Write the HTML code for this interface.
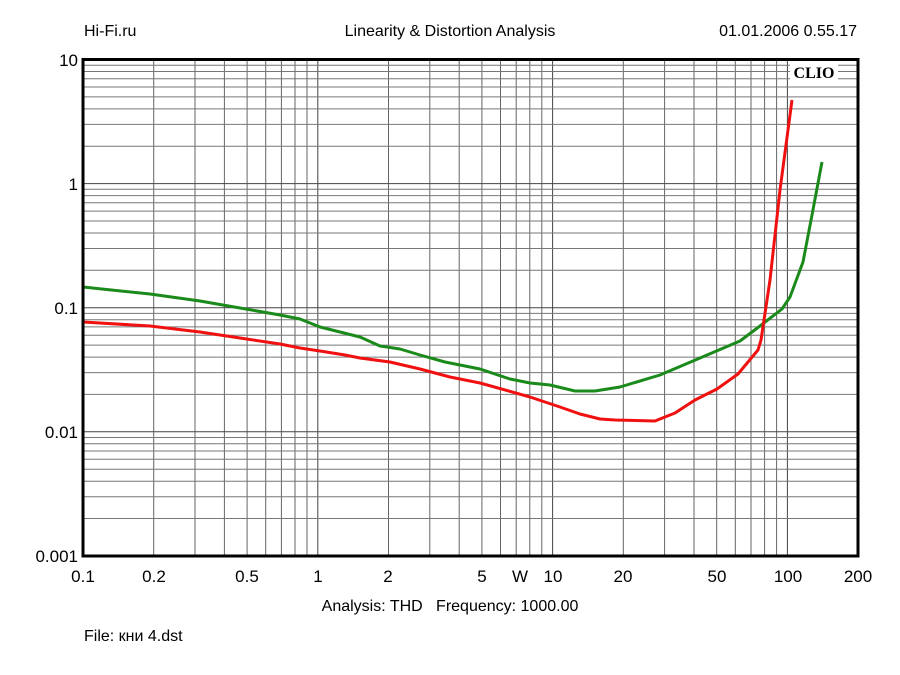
<!DOCTYPE html>
<html><head><meta charset="utf-8"><style>
body{margin:0;background:#fff;}
svg{display:block;font-family:"Liberation Sans",sans-serif;}
</style></head><body>
<svg width="900" height="675" viewBox="0 0 900 675">
<path fill="none" stroke="#666" stroke-width="1" d="M153.7 59.5V556M195 59.5V556M224.4 59.5V556M247.1 59.5V556M265.7 59.5V556M281.4 59.5V556M295 59.5V556M307 59.5V556M388.5 59.5V556M429.8 59.5V556M459.2 59.5V556M481.9 59.5V556M500.5 59.5V556M516.2 59.5V556M529.8 59.5V556M541.8 59.5V556M623.3 59.5V556M664.6 59.5V556M694 59.5V556M716.7 59.5V556M735.3 59.5V556M751 59.5V556M764.6 59.5V556M776.6 59.5V556"/>
<path fill="none" stroke="#444" stroke-width="1" d="M317.8 59.5V556M552.6 59.5V556M787.4 59.5V556M83 183.6H858M83 307.7H858M83 431.8H858"/>
<path fill="none" stroke="#777" stroke-width="1" d="M83 146.2H858M83 124.4H858M83 108.9H858M83 96.9H858M83 87H858M83 78.7H858M83 71.5H858M83 65.2H858M83 270.3H858M83 248.5H858M83 233H858M83 221H858M83 211.1H858M83 202.8H858M83 195.6H858M83 189.3H858M83 394.4H858M83 372.6H858M83 357.1H858M83 345.1H858M83 335.2H858M83 326.9H858M83 319.7H858M83 313.4H858M83 518.5H858M83 496.7H858M83 481.2H858M83 469.2H858M83 459.3H858M83 451H858M83 443.8H858M83 437.5H858"/>
<rect x="790" y="63" width="48" height="18" fill="#fff"/>
<text x="814" y="78" text-anchor="middle" font-family="Liberation Serif,serif" font-weight="bold" font-size="16">CLIO</text>
<polyline fill="none" stroke="#1a8a1a" stroke-width="3" stroke-linejoin="round" points="83,287 150,294 200,301 240,308 280,315 300,319 320,327 340,332 360,337 380,346 400,349 420,355 445,362 480,369 510,379 530,383 550,385 575,391 595,391 620,387 660,375 700,358 740,341 760,326 782,309 790,297 803,262 812,215 822,162"/>
<polyline fill="none" stroke="#f01010" stroke-width="3" stroke-linejoin="round" points="83,322 150,326 200,332 240,338 280,344 300,348 320,351 345,355 360,358 390,362 420,369 450,377 480,383 530,397 560,407 580,414 600,419 615,420 655,421 675,413 695,400 717,389 738,374 758,350 761,340 770,280 780,190 792,100"/>
<rect x="83" y="59.5" width="775" height="496.5" fill="none" stroke="#000" stroke-width="3"/>
<g font-size="16" fill="#000">
<text x="84" y="36">Hi-Fi.ru</text>
<text x="450" y="36" text-anchor="middle">Linearity &amp; Distortion Analysis</text>
<text x="857" y="36" text-anchor="end">01.01.2006 0.55.17</text>
<text x="78" y="66" text-anchor="end" font-size="17">10</text>
<text x="78" y="190" text-anchor="end" font-size="17">1</text>
<text x="78" y="314" text-anchor="end" font-size="17">0.1</text>
<text x="78" y="438" text-anchor="end" font-size="17">0.01</text>
<text x="78" y="562" text-anchor="end" font-size="17">0.001</text>
<g font-size="17" text-anchor="middle">
<text x="83" y="582">0.1</text>
<text x="154" y="582">0.2</text>
<text x="247" y="582">0.5</text>
<text x="318" y="582">1</text>
<text x="388" y="582">2</text>
<text x="482" y="582">5</text>
<text x="520" y="582">W</text>
<text x="553" y="582">10</text>
<text x="623" y="582">20</text>
<text x="717" y="582">50</text>
<text x="788" y="582">100</text>
<text x="858" y="582">200</text>
</g>
<text x="450" y="611" text-anchor="middle">Analysis: THD&#160;&#160;&#160;Frequency: 1000.00</text>
<text x="84" y="641">File: кни 4.dst</text>
</g>
</svg>
</body></html>
